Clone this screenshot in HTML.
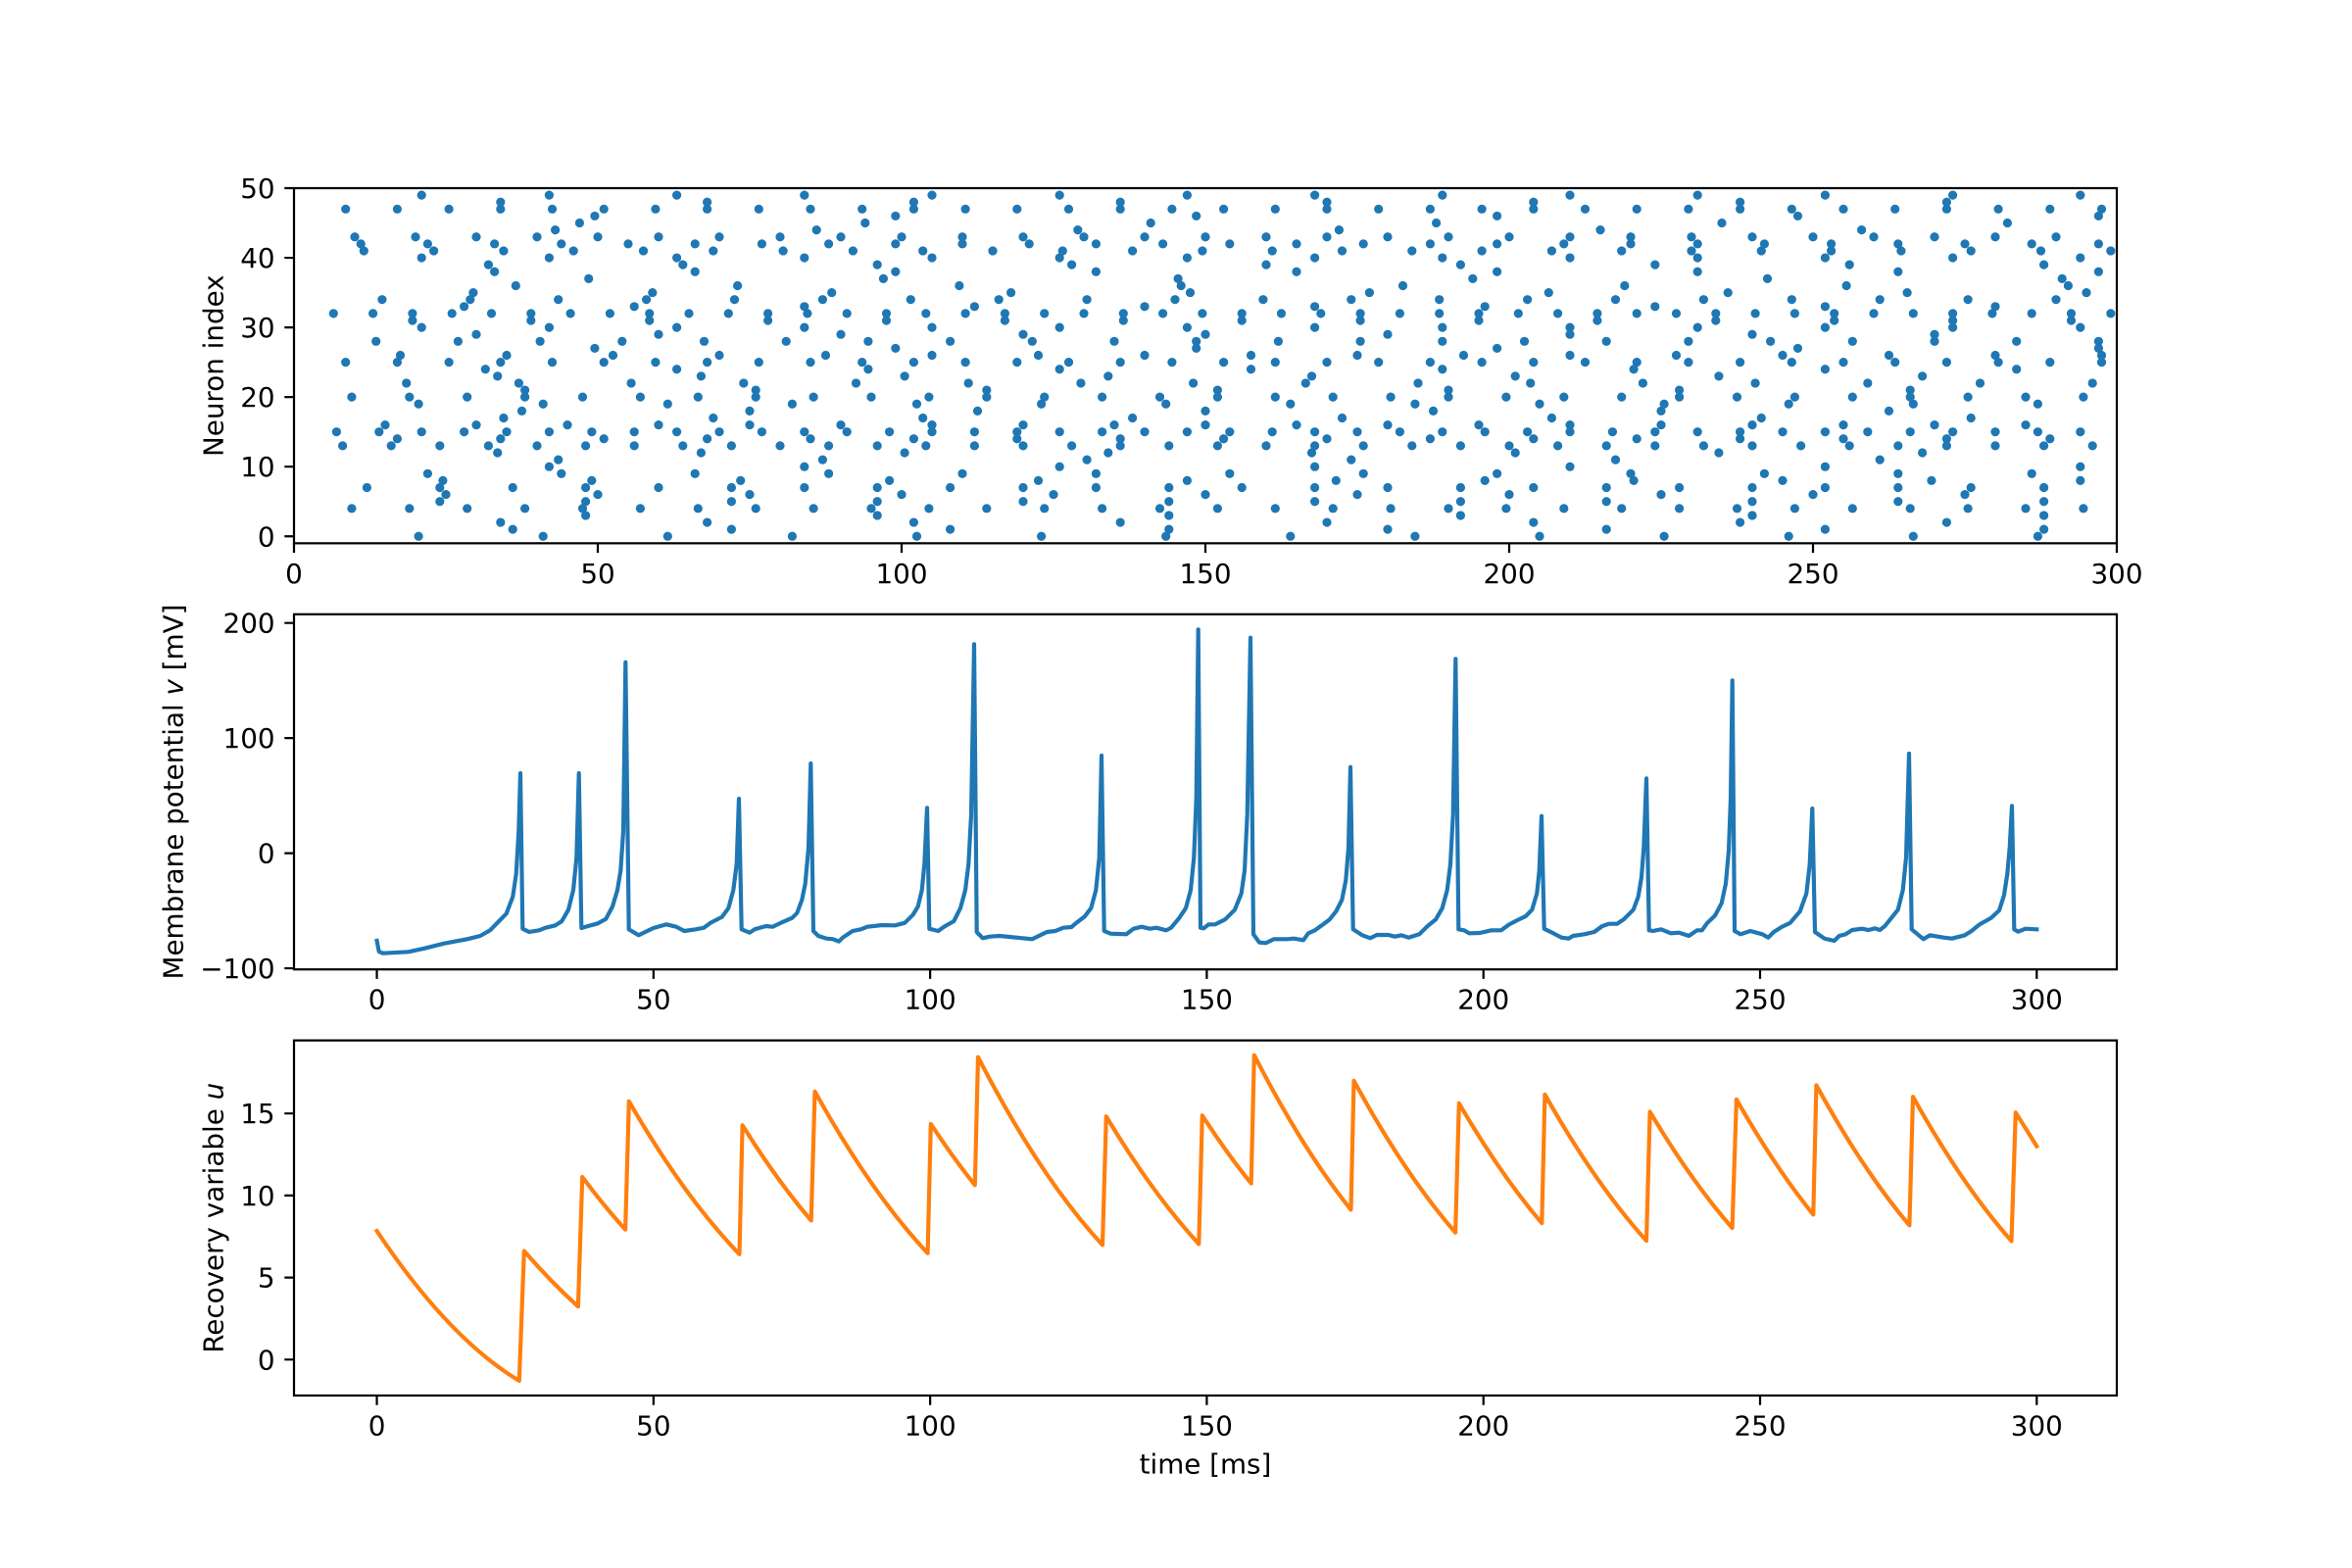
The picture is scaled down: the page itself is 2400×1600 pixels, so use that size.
<!DOCTYPE html>
<html>
<head>
<meta charset="utf-8">
<style>
html,body{margin:0;padding:0;background:#fff;}
svg{display:block;}
text{font-family:"DejaVu Sans","Liberation Sans",sans-serif;font-size:27.78px;fill:#000;}
</style>
</head>
<body>
<svg width="2400" height="1600" viewBox="0 0 2400 1600" xmlns="http://www.w3.org/2000/svg">
<rect x="0" y="0" width="2400" height="1600" fill="#fff"/>

<g fill="none" stroke="#1f77b4" stroke-width="9.2" stroke-linecap="round">
<path d="M427.1 547.25H2159" stroke-dasharray="0.01 127.09"/>
<path d="M523.2 540.15H2159" stroke-dasharray="0.01 223.19"/>
<path d="M510.8 533.04H2159" stroke-dasharray="0.01 210.79"/>
<path d="M597.6 525.94H2159" stroke-dasharray="0.01 297.59"/>
<path d="M358.9 518.83H2159" stroke-dasharray="0.01 58.89"/>
<path d="M448.8 511.73H2159" stroke-dasharray="0.01 148.79"/>
<path d="M455 504.62H2159" stroke-dasharray="0.01 154.99"/>
<path d="M374.4 497.52H2159" stroke-dasharray="0.01 74.39"/>
<path d="M451.9 490.41H2159" stroke-dasharray="0.01 151.89"/>
<path d="M436.4 483.31H2159" stroke-dasharray="0.01 136.39"/>
<path d="M560.4 476.2H2159" stroke-dasharray="0.01 260.39"/>
<path d="M569.7 469.1H2159" stroke-dasharray="0.01 269.69"/>
<path d="M507.7 461.99H2159" stroke-dasharray="0.01 207.69"/>
<path d="M349.6 454.89H2159" stroke-dasharray="0.01 49.59"/>
<path d="M405.4 447.78H2159" stroke-dasharray="0.01 105.39"/>
<path d="M343.4 440.68H2159" stroke-dasharray="0.01 43.39"/>
<path d="M393 433.57H2159" stroke-dasharray="0.01 92.99"/>
<path d="M513.9 426.47H2159" stroke-dasharray="0.01 213.89"/>
<path d="M532.5 419.36H2159" stroke-dasharray="0.01 232.49"/>
<path d="M427.1 412.26H2159" stroke-dasharray="0.01 127.09"/>
<path d="M358.9 405.15H2159" stroke-dasharray="0.01 58.89"/>
<path d="M535.6 398.05H2159" stroke-dasharray="0.01 235.59"/>
<path d="M414.7 390.94H2159" stroke-dasharray="0.01 114.69"/>
<path d="M507.7 383.84H2159" stroke-dasharray="0.01 207.69"/>
<path d="M495.3 376.73H2159" stroke-dasharray="0.01 195.29"/>
<path d="M352.7 369.63H2159" stroke-dasharray="0.01 52.69"/>
<path d="M408.5 362.52H2159" stroke-dasharray="0.01 108.49"/>
<path d="M606.9 355.42H2159" stroke-dasharray="0.01 306.89"/>
<path d="M383.7 348.31H2159" stroke-dasharray="0.01 83.69"/>
<path d="M486 341.21H2159" stroke-dasharray="0.01 185.99"/>
<path d="M430.2 334.1H2159" stroke-dasharray="0.01 130.19"/>
<path d="M420.9 327H2159" stroke-dasharray="0.01 120.89"/>
<path d="M340.3 319.89H2159" stroke-dasharray="0.01 40.29"/>
<path d="M473.6 312.79H2159" stroke-dasharray="0.01 173.59"/>
<path d="M389.9 305.68H2159" stroke-dasharray="0.01 89.89"/>
<path d="M482.9 298.58H2159" stroke-dasharray="0.01 182.89"/>
<path d="M526.3 291.47H2159" stroke-dasharray="0.01 226.29"/>
<path d="M600.7 284.37H2159" stroke-dasharray="0.01 300.69"/>
<path d="M504.6 277.26H2159" stroke-dasharray="0.01 204.59"/>
<path d="M498.4 270.16H2159" stroke-dasharray="0.01 198.39"/>
<path d="M430.2 263.05H2159" stroke-dasharray="0.01 130.19"/>
<path d="M371.3 255.95H2159" stroke-dasharray="0.01 71.29"/>
<path d="M368.2 248.84H2159" stroke-dasharray="0.01 68.19"/>
<path d="M362 241.74H2159" stroke-dasharray="0.01 61.99"/>
<path d="M566.6 234.63H2159" stroke-dasharray="0.01 266.59"/>
<path d="M591.4 227.53H2159" stroke-dasharray="0.01 291.39"/>
<path d="M606.9 220.42H2159" stroke-dasharray="0.01 306.89"/>
<path d="M352.7 213.32H2159" stroke-dasharray="0.01 52.69"/>
<path d="M510.8 206.21H2159" stroke-dasharray="0.01 210.79"/>
<path d="M430.2 199.11H2159" stroke-dasharray="0.01 130.19"/>
</g>

<path fill="none" stroke="#1f77b4" stroke-width="4.17" stroke-linejoin="round" stroke-linecap="square" d="M384.55 960 L386.7 971 L390.7 972.7 L416.7 971.3 L433.3 967.7 L453.3 962.7 L476.7 958.3 L490 955 L500 949.3 L516.7 932.3 L523.3 915 L526.7 891.7 L529.3 848.3 L531 789 L533.3 947.7 L540 951 L550 949.3 L556.7 946.7 L566.7 944.3 L573.3 940 L580 928.3 L585 908.3 L588.3 875 L590.7 789 L593.3 947 L600 945 L610 942.3 L618.3 937.7 L625 925 L630 908.3 L633.3 888.3 L636 848.3 L638.3 675.7 L641.7 948.3 L651.7 954.3 L666.7 947 L680 943.3 L690 945.7 L698.3 950 L710 948.3 L718.3 946.7 L725 941.7 L736.7 935.7 L743.3 926.7 L748.3 908.3 L751.7 881.7 L754 815 L756.7 948.3 L765 951.7 L770 948.3 L781.7 945 L788.3 945.7 L796.7 941.7 L808.3 936.7 L813.3 931.7 L818.3 918.3 L821.7 901.7 L825 865 L827.3 779 L830 950 L835 955 L843.3 957.7 L850 958.3 L856 960.7 L860 956.7 L870 950 L878.3 948.3 L885 945.7 L900 944 L913.3 944.3 L923.3 941.7 L931.7 933.3 L936.7 925 L940.7 908.3 L943.3 881.7 L946 824.3 L948.3 947.7 L957.3 950 L963.3 945.7 L973.3 940 L980 926.7 L985 908.3 L988.3 881.7 L991 831.7 L994 657.3 L996.7 951 L1002.7 957.3 L1010 955.7 L1020 955 L1043.3 957.3 L1053.3 958.3 L1060 955 L1068.3 951 L1076.7 950 L1085 946.7 L1093.3 946 L1098.3 941.7 L1106.7 935.3 L1113.3 926.7 L1118.3 908.3 L1121.7 875 L1124 771 L1126.7 950 L1133.3 952.7 L1149.3 953.3 L1156.7 947.7 L1165 945.7 L1173.3 947.7 L1180 946.7 L1190 949.3 L1195 946.7 L1203.3 936.7 L1210 926.7 L1215 908.3 L1218.3 875 L1220.7 815 L1222.7 642.3 L1225 946.7 L1228.3 947.3 L1233.3 943.3 L1240 943.3 L1250 938.3 L1260 928.3 L1266.7 911.7 L1270 888.3 L1272.7 831.7 L1276 650.7 L1279 953.3 L1285 961.7 L1291.7 962.3 L1300 958.3 L1313.3 958.3 L1320 957.7 L1330 959.3 L1335 952.3 L1341.7 949.3 L1350 943.3 L1356.7 938.3 L1363.3 930 L1369.3 918.3 L1373.3 898.3 L1376 865 L1378 782.7 L1380.7 948.3 L1390 954.3 L1398.3 957.3 L1405 954 L1416.7 954 L1423.3 955.7 L1430 954.3 L1437.3 956.7 L1448.3 953.3 L1456.7 945 L1465 938.3 L1471.7 926.7 L1476.7 908.3 L1480 881.7 L1482.7 831.7 L1485.3 672.3 L1488.3 948.3 L1494 949.3 L1499.3 952.3 L1510 952 L1521.7 949.3 L1531.7 949.3 L1540 943.3 L1548.3 939 L1556.7 935 L1563.3 928.3 L1568.3 911.7 L1570.7 888.3 L1573 832.7 L1575.7 947.7 L1585 952.3 L1593.3 956.7 L1600.7 957.7 L1605 955 L1616.7 953.3 L1626.7 951 L1635 945 L1641.7 942.7 L1650 942.7 L1656.7 938.3 L1666.7 928.3 L1671.7 915 L1675 895 L1677.3 865 L1680 794.3 L1682.7 949.3 L1686.7 950 L1695 948.3 L1705 952.3 L1713.3 951.7 L1723.3 955 L1731.7 949.3 L1736.7 949.3 L1741.7 942.3 L1750 934.3 L1756.7 921.7 L1761 901.7 L1764 868.3 L1766 815 L1767.7 694.3 L1770 950 L1776 953.3 L1786 950 L1798.3 953.3 L1804.3 956.7 L1810 951 L1818.3 945.7 L1826.7 941.7 L1836.7 930 L1843.3 911.7 L1846.7 881.7 L1849.3 825 L1852 951 L1861.7 957.7 L1871.7 960 L1876.7 955 L1883.3 953.3 L1890 949 L1900 947.7 L1906.7 949 L1913.3 947.3 L1918.3 949 L1923.3 945 L1930 936.7 L1936.7 928.3 L1941.7 908.3 L1945 875 L1948 769 L1950.7 948.3 L1962.7 958.3 L1969.3 954.3 L1983.3 956.7 L1991.7 957.7 L2005 954.3 L2011.7 950 L2020 943.3 L2031.7 936.7 L2040 929 L2045 913.3 L2048.3 891.7 L2050.7 865 L2053 822.3 L2055.3 948.3 L2059.3 950.7 L2066.7 947.7 L2078.3 948.3"/>

<path fill="none" stroke="#ff7f0e" stroke-width="4.17" stroke-linejoin="round" stroke-linecap="square" d="M384.55 1256.1 Q457.2 1365.3 529.8 1409.0 L534.8 1276.5 Q562.35 1308.35 589.9 1333.2 L594.2 1201 Q616.15 1230.5 638.1 1254.7 L641.8 1123.8 Q698.15 1221.5 754.5 1279.8 L757.6 1148.2 Q792.65 1204.4 827.7 1245.4 L831.5 1113.8 Q889.05 1217.5 946.6 1278.8 L949.8 1146.9 Q972.3 1181.2 994.8 1209.3 L998.0 1078.7 Q1061.5 1201.8 1125.0 1270.4 L1128.8 1139.2 Q1176.05 1218.1 1223.3 1269.4 L1226.8 1138.2 Q1251.75 1176.8 1276.7 1207.6 L1279.8 1076.7 Q1329.15 1173 1378.5 1234.4 L1381.5 1102.8 Q1433.3 1198.2 1485.1 1257.7 L1488.8 1125.8 Q1531.05 1198.5 1573.3 1248.1 L1576.4 1116.8 Q1628.2 1208.7 1680.0 1266.1 L1683.6 1134.5 Q1725.6 1205 1767.6 1253.1 L1771.9 1121.8 Q1811.1 1191 1850.3 1239.4 L1853.4 1107.4 Q1900.9 1194.1 1948.4 1250.4 L1952.0 1119.1 Q2002.25 1209.4 2052.5 1266.4 L2056.8 1135.2 L2078.3 1169.6"/>

<g fill="none" stroke="#000" stroke-width="2.22">
<rect x="300" y="192" width="1860" height="362.35"/>
<rect x="300" y="626.82" width="1860" height="362.36"/>
<rect x="300" y="1061.65" width="1860" height="362.35"/>
</g>

<g stroke="#000" stroke-width="2.22" fill="none">
<path d="M300 554.35v9.72M610 554.35v9.72M920 554.35v9.72M1230 554.35v9.72M1540 554.35v9.72M1850 554.35v9.72M2160 554.35v9.72"/>
<path d="M290.28 547.25h9.72M290.28 476.2h9.72M290.28 405.15h9.72M290.28 334.1h9.72M290.28 263.05h9.72M290.28 192h9.72"/>
<path d="M384.55 989.18v9.72M666.84 989.18v9.72M949.13 989.18v9.72M1231.42 989.18v9.72M1513.71 989.18v9.72M1796 989.18v9.72M2078.29 989.18v9.72"/>
<path d="M290.28 988.05h9.72M290.28 870.6h9.72M290.28 753.15h9.72M290.28 635.7h9.72"/>
<path d="M384.55 1424v9.72M666.84 1424v9.72M949.13 1424v9.72M1231.42 1424v9.72M1513.71 1424v9.72M1796 1424v9.72M2078.29 1424v9.72"/>
<path d="M290.28 1387.3h9.72M290.28 1303.6h9.72M290.28 1219.9h9.72M290.28 1136.2h9.72"/>
</g>

<g text-anchor="middle">
<text x="300" y="594.9">0</text>
<text x="610" y="594.9">50</text>
<text x="920" y="594.9">100</text>
<text x="1230" y="594.9">150</text>
<text x="1540" y="594.9">200</text>
<text x="1850" y="594.9">250</text>
<text x="2160" y="594.9">300</text>
<text x="384.55" y="1029.7">0</text>
<text x="666.84" y="1029.7">50</text>
<text x="949.13" y="1029.7">100</text>
<text x="1231.42" y="1029.7">150</text>
<text x="1513.71" y="1029.7">200</text>
<text x="1796" y="1029.7">250</text>
<text x="2078.29" y="1029.7">300</text>
<text x="384.55" y="1464.5">0</text>
<text x="666.84" y="1464.5">50</text>
<text x="949.13" y="1464.5">100</text>
<text x="1231.42" y="1464.5">150</text>
<text x="1513.71" y="1464.5">200</text>
<text x="1796" y="1464.5">250</text>
<text x="2078.29" y="1464.5">300</text>
</g>
<g text-anchor="end">
<text x="280.56" y="557.25">0</text>
<text x="280.56" y="486.2">10</text>
<text x="280.56" y="415.15">20</text>
<text x="280.56" y="344.1">30</text>
<text x="280.56" y="273.05">40</text>
<text x="280.56" y="202">50</text>
<text x="280.56" y="998.05">−100</text>
<text x="280.56" y="880.6">0</text>
<text x="280.56" y="763.15">100</text>
<text x="280.56" y="645.7">200</text>
<text x="280.56" y="1397.3">0</text>
<text x="280.56" y="1313.6">5</text>
<text x="280.56" y="1229.9">10</text>
<text x="280.56" y="1146.2">15</text>
</g>

<text text-anchor="middle" transform="translate(227.6,373.2) rotate(-90)">Neuron index</text>
<text text-anchor="middle" transform="translate(186.6,808) rotate(-90)">Membrane potential <tspan font-style="italic">v</tspan> [mV]</text>
<text text-anchor="middle" transform="translate(227.6,1242.8) rotate(-90)">Recovery variable <tspan font-style="italic">u</tspan></text>
<text text-anchor="middle" x="1230" y="1503.3">time [ms]</text>
</svg>
</body>
</html>
